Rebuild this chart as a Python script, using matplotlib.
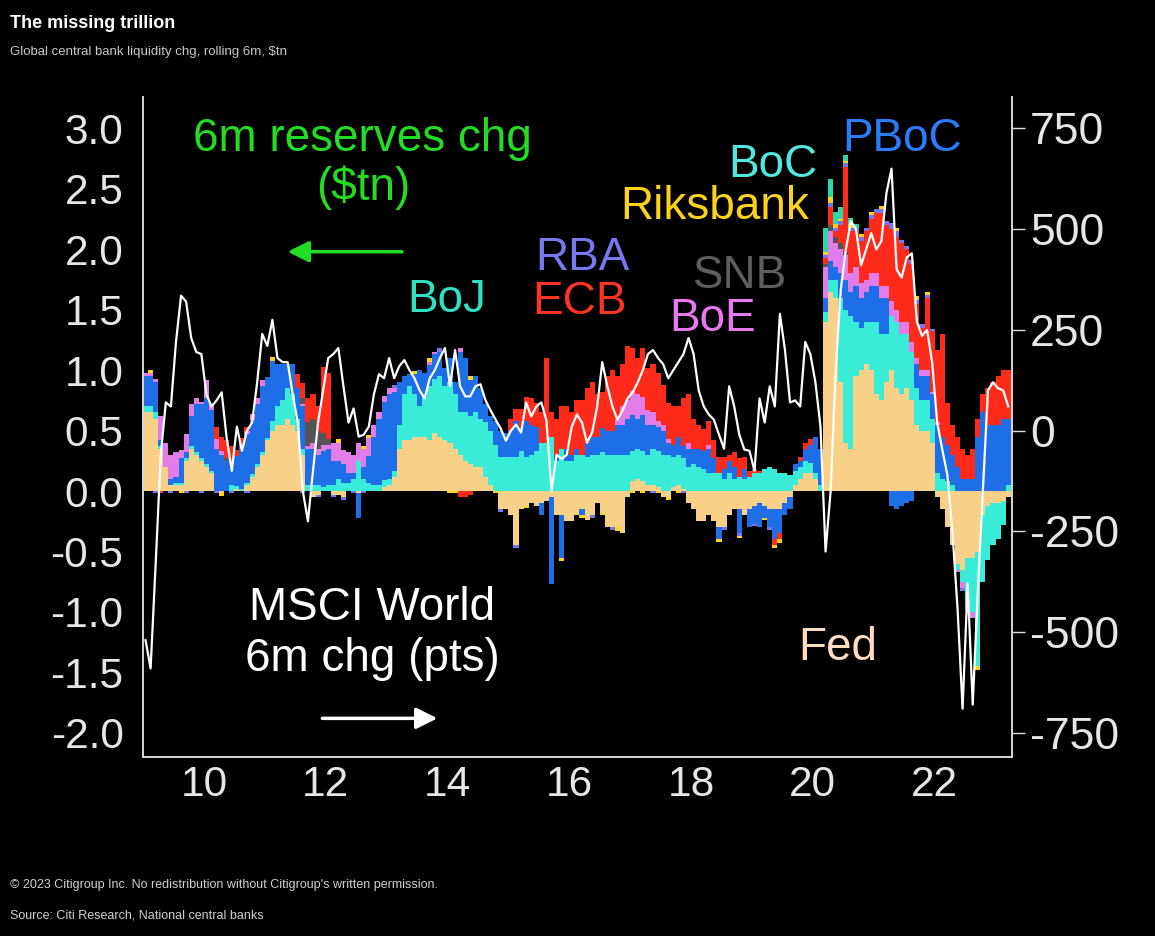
import numpy as np
import matplotlib
matplotlib.use("Agg")
import matplotlib.pyplot as plt

plt.rcParams["font.family"] = ["Liberation Sans", "DejaVu Sans"]
plt.rcParams["axes.unicode_minus"] = False

# monthly 6m change in reserves ($tn), Jan 2009 .. Mar 2023
fed = [
    0.65, 0.65, 0.60, 0.35, 0.20, 0.05, 0.05, 0.05, 0.25, 0.35, 0.30, 0.25,
    0.20, 0.15, 0.00, -0.02, 0.00, 0.00, 0.02, 0.00, 0.05, 0.12, 0.20, 0.30,
    0.42, 0.50, 0.55, 0.55, 0.60, 0.55, 0.50, 0.30, 0.00, -0.05, -0.03, 0.00,
    0.00, -0.03, -0.03, -0.05, 0.00, 0.00, -0.02, 0.00, 0.00, 0.00, 0.00, 0.03,
    0.05, 0.12, 0.35, 0.42, 0.42, 0.45, 0.45, 0.45, 0.42, 0.48, 0.45, 0.42,
    0.40, 0.35, 0.30, 0.25, 0.22, 0.20, 0.20, 0.12, 0.05, 0.00, -0.15, -0.15,
    -0.20, -0.45, -0.15, -0.12, -0.10, -0.12, -0.10, -0.08, -0.05, -0.20, -0.20, -0.25,
    -0.25, -0.20, -0.15, -0.24, -0.20, -0.10, -0.18, -0.30, -0.30, -0.30, -0.35, -0.05,
    0.08, 0.10, 0.08, 0.05, 0.05, 0.03, -0.05, -0.05, 0.03, 0.05, 0.02, -0.10,
    -0.15, -0.25, -0.25, -0.20, -0.25, -0.30, -0.30, -0.20, -0.15, -0.15, -0.20, -0.15,
    -0.12, -0.10, -0.12, -0.15, -0.15, -0.15, -0.10, -0.05, 0.05, 0.10, 0.15, 0.15,
    0.10, 0.00, 1.40, 1.65, 1.60, 0.90, 0.40, 0.35, 0.95, 1.00, 1.05, 1.00,
    0.80, 0.75, 0.90, 1.00, 0.85, 0.80, 0.85, 0.75, 0.55, 0.50, 0.50, 0.40,
    -0.05, -0.15, -0.30, -0.45, -0.60, -0.65, -0.55, -0.55, -0.50, -0.20, -0.12, -0.10,
    -0.10, -0.08, -0.05,
]
boj = [
    0.05, 0.05, 0.05, 0.02, 0.00, 0.00, 0.02, 0.02, 0.02, 0.02, 0.02, 0.02,
    0.02, 0.02, 0.00, 0.00, 0.00, 0.05, 0.02, 0.02, 0.02, 0.02, 0.02, 0.02,
    0.02, 0.08, 0.15, 0.20, 0.25, 0.25, 0.10, 0.05, 0.05, 0.05, 0.05, 0.03,
    0.05, 0.05, 0.10, 0.07, 0.07, 0.10, 0.25, 0.10, 0.07, 0.05, 0.05, 0.06,
    0.05, 0.05, 0.20, 0.38, 0.45, 0.35, 0.25, 0.33, 0.45, 0.45, 0.50, 0.45,
    0.50, 0.45, 0.35, 0.40, 0.40, 0.45, 0.40, 0.45, 0.45, 0.38, 0.28, 0.28,
    0.28, 0.28, 0.33, 0.28, 0.30, 0.33, 0.40, 0.40, 0.45, 0.25, 0.35, 0.25,
    0.25, 0.30, 0.30, 0.28, 0.30, 0.30, 0.32, 0.30, 0.30, 0.30, 0.30, 0.30,
    0.25, 0.25, 0.25, 0.25, 0.30, 0.30, 0.30, 0.30, 0.25, 0.25, 0.25, 0.20,
    0.22, 0.20, 0.18, 0.15, 0.15, 0.15, 0.10, 0.15, 0.10, 0.12, 0.10, 0.12,
    0.15, 0.15, 0.18, 0.20, 0.18, 0.15, 0.15, 0.13, 0.12, 0.10, 0.10, 0.08,
    0.05, 0.05, 0.08, 0.10, 0.15, 0.70, 1.10, 1.10, 0.45, 0.35, 0.35, 0.40,
    0.60, 0.55, 0.40, 0.45, 0.55, 0.50, 0.45, 0.40, 0.30, 0.25, 0.25, 0.20,
    0.15, 0.10, 0.08, 0.05, -0.05, -0.10, -0.35, -0.45, -0.95, -0.55, -0.45, -0.35,
    -0.30, -0.20, 0.05,
]
pboc = [
    0.25, 0.25, 0.25, 0.05, 0.00, 0.05, 0.05, 0.20, 0.05, 0.25, 0.40, 0.45,
    0.55, 0.50, 0.35, 0.30, 0.25, 0.15, 0.25, 0.35, 0.40, 0.45, 0.50, 0.55,
    0.50, 0.50, 0.35, 0.30, 0.20, 0.25, 0.25, 0.35, 0.30, 0.30, 0.25, 0.30,
    0.30, 0.20, 0.15, 0.15, 0.08, 0.05, -0.20, 0.10, 0.22, 0.40, 0.55, 0.65,
    0.70, 0.65, 0.35, 0.15, 0.10, 0.17, 0.30, 0.20, 0.17, 0.20, 0.20, 0.15,
    0.20, 0.10, 0.50, 0.45, 0.30, 0.30, 0.25, 0.15, 0.12, 0.20, 0.22, 0.20,
    0.22, 0.30, 0.20, 0.30, 0.25, 0.20, -0.10, 0.00, -0.72, 0.05, -0.35, 0.10,
    0.05, 0.05, -0.05, 0.12, 0.15, 0.15, 0.20, 0.20, 0.20, 0.25, 0.25, 0.30,
    0.30, 0.25, 0.30, 0.25, 0.20, 0.20, 0.20, 0.10, 0.10, 0.15, 0.10, 0.15,
    0.13, 0.15, 0.15, 0.20, 0.12, -0.10, 0.08, 0.10, 0.10, -0.20, 0.08, -0.15,
    -0.15, -0.20, -0.10, -0.15, -0.25, -0.20, -0.10, -0.10, 0.05, 0.05, 0.10, 0.15,
    0.30, 0.30, 0.12, 0.15, 0.10, 0.20, 0.25, 0.20, 0.30, 0.25, 0.25, 0.30,
    0.30, 0.30, 0.30, -0.12, -0.15, -0.12, -0.10, -0.08, 0.20, 0.20, 0.20, 0.20,
    0.40, 0.35, 0.30, 0.25, 0.20, 0.10, 0.10, 0.10, 0.45, 0.65, 0.55, 0.55,
    0.55, 0.60, 0.55,
]
boe = [
    0.03, 0.03, 0.03, 0.20, 0.20, 0.20, 0.20, 0.07, 0.15, 0.10, 0.05, 0.02,
    0.15, 0.05, 0.08, 0.03, 0.00, 0.00, 0.00, 0.00, 0.03, 0.05, 0.05, 0.05,
    0.00, 0.00, 0.00, 0.00, 0.00, 0.00, 0.00, 0.02, 0.02, 0.05, 0.05, 0.05,
    0.03, 0.15, 0.15, 0.12, 0.17, 0.15, 0.15, 0.15, 0.15, 0.10, 0.05, 0.05,
    0.05, 0.03, 0.00, 0.00, 0.00, 0.00, 0.00, 0.00, 0.03, 0.02, 0.00, 0.00,
    0.00, 0.00, 0.03, 0.00, 0.00, 0.00, 0.00, 0.00, 0.00, 0.00, 0.00, 0.00,
    0.00, 0.00, 0.00, 0.00, 0.00, 0.00, 0.00, 0.00, 0.00, 0.00, 0.00, 0.00,
    0.00, 0.00, 0.00, 0.00, 0.00, 0.00, 0.00, 0.00, 0.00, 0.05, 0.15, 0.15,
    0.20, 0.20, 0.15, 0.12, 0.10, 0.05, 0.05, 0.03, 0.00, 0.00, 0.00, 0.05,
    0.00, 0.00, 0.00, 0.03, 0.00, 0.00, 0.00, 0.00, 0.00, 0.00, 0.00, 0.00,
    0.00, 0.00, 0.00, 0.00, 0.00, 0.00, 0.00, 0.00, 0.00, 0.00, 0.00, 0.00,
    0.00, 0.00, 0.25, 0.25, 0.20, 0.20, 0.20, 0.15, 0.15, 0.12, 0.10, 0.10,
    0.10, 0.10, 0.10, 0.12, 0.10, 0.10, 0.10, 0.08, 0.05, 0.05, 0.05, 0.02,
    0.02, 0.00, 0.00, 0.00, -0.02, -0.05, -0.05, -0.05, 0.00, 0.00, 0.00, 0.00,
    0.00, 0.00, 0.00,
]
snb = [
    0.00, 0.00, 0.00, 0.00, 0.00, 0.00, 0.00, 0.00, 0.00, 0.00, 0.00, 0.00,
    0.00, 0.00, 0.00, 0.00, 0.02, 0.02, 0.00, 0.00, 0.00, 0.00, 0.00, 0.00,
    0.00, 0.00, 0.00, 0.00, 0.00, 0.00, 0.00, 0.05, 0.20, 0.20, 0.15, 0.10,
    0.05, 0.00, 0.00, 0.00, 0.00, 0.00, 0.00, 0.00, 0.00, 0.00, 0.00, 0.00,
    0.00, 0.00, 0.00, 0.00, 0.00, 0.00, 0.00, 0.00, 0.00, 0.00, 0.00, 0.00,
    0.00, 0.00, 0.00, 0.00, 0.00, 0.00, 0.00, 0.00, 0.00, 0.00, 0.00, 0.00,
    0.00, 0.00, 0.00, 0.00, 0.00, 0.00, 0.00, 0.00, 0.00, 0.00, 0.00, 0.00,
    0.00, 0.00, 0.00, 0.00, 0.00, 0.00, 0.00, 0.00, 0.00, 0.00, 0.00, 0.00,
    0.00, 0.00, 0.00, 0.00, 0.00, 0.00, 0.00, 0.00, 0.00, 0.00, 0.00, 0.00,
    0.00, 0.00, 0.00, 0.00, 0.00, 0.00, 0.00, 0.00, 0.00, 0.00, 0.00, 0.00,
    0.00, 0.00, 0.00, 0.00, 0.00, 0.00, 0.00, 0.00, 0.00, 0.00, 0.00, 0.00,
    0.00, 0.00, 0.03, 0.05, 0.05, 0.05, 0.03, 0.00, 0.00, 0.00, 0.00, 0.00,
    0.00, 0.00, 0.00, 0.00, 0.00, 0.00, 0.00, 0.00, 0.00, 0.00, 0.00, 0.00,
    0.00, 0.00, 0.00, 0.00, 0.00, 0.00, 0.00, 0.00, 0.00, 0.00, 0.00, 0.00,
    0.00, 0.00, 0.00,
]
ecb = [
    0.00, 0.00, 0.00, -0.02, 0.00, 0.00, 0.00, 0.00, 0.00, 0.00, 0.00, 0.00,
    0.00, 0.00, 0.10, 0.12, 0.15, 0.15, 0.05, 0.07, 0.03, 0.00, 0.00, 0.00,
    0.00, 0.00, 0.00, 0.00, 0.00, 0.00, 0.12, 0.12, 0.20, 0.20, 0.20, 0.55,
    0.55, 0.00, 0.00, 0.00, 0.00, 0.00, 0.00, 0.00, 0.00, 0.00, 0.00, 0.00,
    0.00, 0.00, 0.00, 0.00, 0.00, 0.00, 0.00, 0.00, 0.00, 0.00, 0.00, 0.00,
    0.00, 0.00, -0.05, -0.05, -0.03, 0.00, 0.00, 0.00, 0.00, 0.00, 0.00, 0.00,
    0.10, 0.10, 0.15, 0.20, 0.22, 0.20, 0.25, 0.70, 0.20, 0.30, 0.35, 0.35,
    0.35, 0.40, 0.45, 0.45, 0.45, 0.35, 0.30, 0.45, 0.50, 0.35, 0.35, 0.45,
    0.35, 0.30, 0.40, 0.35, 0.40, 0.40, 0.33, 0.30, 0.32, 0.25, 0.40, 0.40,
    0.25, 0.20, 0.18, 0.20, 0.15, 0.13, 0.10, 0.05, 0.12, 0.15, 0.10, 0.05,
    0.03, 0.02, 0.00, 0.00, -0.05, -0.05, 0.00, 0.00, 0.00, 0.03, 0.05, 0.05,
    0.00, 0.00, 0.05, 0.15, 0.05, 0.15, 0.70, 0.35, 0.30, 0.35, 0.40, 0.45,
    0.50, 0.60, 0.50, 0.60, 0.60, 0.65, 0.60, 0.65, 0.45, 0.35, 0.60, 0.50,
    0.60, 0.85, 0.35, 0.25, 0.25, 0.25, 0.20, 0.25, 0.15, 0.15, 0.30, 0.35,
    0.40, 0.40, 0.40,
]
rba = [
    0.00, 0.00, -0.02, 0.00, 0.00, -0.02, 0.00, 0.00, -0.02, 0.00, 0.00, -0.02,
    0.00, 0.00, -0.02, 0.00, 0.00, -0.02, 0.00, 0.00, -0.02, 0.00, 0.00, 0.00,
    0.00, 0.00, 0.00, 0.00, 0.00, 0.00, 0.00, -0.02, 0.00, 0.00, -0.02, 0.00,
    0.00, -0.02, 0.00, -0.02, 0.00, -0.02, 0.00, -0.02, 0.00, 0.00, 0.00, 0.00,
    0.00, 0.03, 0.00, 0.00, 0.00, 0.00, 0.00, 0.00, 0.00, 0.00, 0.03, 0.00,
    0.00, 0.00, 0.00, 0.00, 0.00, 0.00, 0.00, 0.00, 0.00, 0.00, -0.02, 0.00,
    0.00, -0.02, 0.00, 0.00, 0.00, 0.00, 0.00, 0.00, 0.00, 0.00, 0.00, 0.00,
    0.00, 0.00, 0.00, 0.00, -0.02, 0.00, 0.00, 0.00, -0.02, 0.00, 0.00, 0.00,
    0.00, 0.00, 0.00, 0.00, -0.02, 0.00, 0.00, 0.00, 0.00, 0.00, -0.02, 0.00,
    0.00, 0.00, 0.00, 0.00, 0.00, 0.00, -0.02, 0.00, 0.00, -0.02, 0.00, 0.00,
    -0.02, 0.00, 0.00, -0.02, 0.00, 0.00, 0.00, 0.00, 0.00, 0.00, 0.00, 0.00,
    0.00, 0.00, 0.02, 0.03, 0.03, 0.03, 0.03, 0.03, 0.03, 0.03, 0.03, 0.03,
    0.03, 0.03, 0.03, 0.05, 0.05, 0.03, 0.03, 0.03, 0.03, 0.03, 0.02, 0.02,
    0.00, 0.00, 0.00, 0.00, 0.00, -0.03, -0.03, 0.00, 0.00, 0.00, 0.00, 0.00,
    0.00, 0.00, 0.00,
]
riksbank = [
    0.00, 0.02, 0.00, 0.00, 0.00, 0.00, 0.00, -0.02, 0.00, 0.00, 0.00, 0.00,
    0.00, 0.00, 0.00, -0.02, 0.00, 0.00, 0.00, 0.00, 0.00, 0.00, 0.00, 0.00,
    0.00, 0.03, 0.00, 0.00, 0.00, 0.00, 0.00, 0.00, 0.00, 0.00, 0.00, 0.00,
    0.00, 0.00, 0.03, 0.00, 0.00, 0.00, 0.00, 0.02, 0.02, 0.00, 0.00, 0.00,
    0.00, 0.00, 0.00, 0.00, 0.00, 0.02, 0.00, 0.00, 0.03, 0.00, 0.00, 0.00,
    -0.02, -0.02, 0.00, 0.00, 0.03, 0.00, 0.00, 0.00, 0.00, -0.02, 0.00, 0.00,
    0.00, 0.00, 0.00, -0.02, 0.00, 0.00, 0.00, 0.00, 0.00, 0.00, -0.03, 0.00,
    0.00, 0.00, -0.02, 0.00, 0.00, 0.00, -0.02, 0.00, 0.00, -0.03, 0.00, 0.00,
    -0.02, 0.00, -0.02, 0.00, 0.00, -0.02, 0.00, -0.02, 0.00, -0.02, 0.00, 0.00,
    0.00, 0.00, 0.00, 0.00, 0.00, -0.02, 0.00, 0.00, 0.00, -0.02, 0.00, 0.00,
    0.00, 0.00, -0.02, 0.00, -0.02, -0.03, 0.00, 0.00, 0.00, 0.00, 0.00, 0.00,
    0.00, 0.00, 0.03, 0.05, 0.03, 0.02, 0.02, 0.03, 0.00, 0.03, 0.00, 0.03,
    0.00, 0.03, 0.00, 0.00, 0.03, 0.00, 0.00, 0.00, 0.03, 0.00, 0.03, 0.00,
    0.00, 0.00, 0.00, 0.00, 0.00, 0.00, 0.00, 0.00, -0.03, 0.00, 0.00, 0.00,
    0.00, 0.00, 0.00,
]
boc = [
    0.00, 0.00, 0.00, 0.00, 0.00, 0.00, 0.00, 0.00, 0.00, 0.00, 0.00, 0.00,
    0.00, 0.00, 0.00, 0.00, 0.00, 0.00, 0.00, 0.00, 0.00, 0.00, 0.00, 0.00,
    0.00, 0.00, 0.00, 0.00, 0.00, 0.00, 0.00, 0.00, 0.00, 0.00, 0.00, 0.00,
    0.00, 0.00, 0.00, 0.00, 0.00, 0.00, 0.00, 0.00, 0.00, 0.00, 0.00, 0.00,
    0.00, 0.00, 0.00, 0.00, 0.00, 0.00, 0.00, 0.00, 0.00, 0.00, 0.00, 0.00,
    0.00, 0.00, 0.00, 0.00, 0.00, 0.00, 0.00, 0.00, 0.00, 0.00, 0.00, 0.00,
    0.00, 0.00, 0.00, 0.00, 0.00, 0.00, 0.00, 0.00, 0.00, 0.00, 0.00, 0.00,
    0.00, 0.00, 0.00, 0.00, 0.00, 0.00, 0.00, 0.00, 0.00, 0.00, 0.00, 0.00,
    0.00, 0.00, 0.00, 0.00, 0.00, 0.00, 0.00, 0.00, 0.00, 0.00, 0.00, 0.00,
    0.00, 0.00, 0.00, 0.00, 0.00, 0.00, 0.00, 0.00, 0.00, 0.00, 0.00, 0.00,
    0.00, 0.00, 0.00, 0.00, 0.00, 0.00, 0.00, 0.00, 0.00, 0.00, 0.00, 0.00,
    0.00, 0.00, 0.20, 0.15, 0.10, 0.10, 0.05, 0.05, 0.03, 0.00, 0.00, 0.00,
    0.00, 0.00, 0.00, 0.00, 0.00, 0.00, 0.00, 0.00, 0.00, 0.00, 0.00, 0.00,
    0.00, 0.00, 0.00, 0.00, 0.00, 0.00, 0.00, 0.00, 0.00, 0.00, 0.00, 0.00,
    0.00, 0.00, 0.00,
]

# MSCI World 6m change (pts), right axis
msci = [
    -520, -590, -330, -60, 70, 60, 220, 335, 320, 230, 195, 190,
    90, 60, 75, 95, -20, -100, 10, -50, 0, 20, 120, 240,
    210, 275, 180, 170, 170, 90, 20, -150, -225, -100, 20, 100,
    180, 190, 205, 110, 20, 55, -15, -10, 10, 90, 140, 130,
    180, 130, 160, 175, 150, 130, 100, 80, 130, 150, 180, 205,
    110, 200, 110, 85, 85, 110, 115, 75, 50, 27, 5, -25,
    0, 15, -5, 70, 35, 60, 70, 25, -150, -60, -70, -60,
    10, 40, 20, -30, -5, 60, 170, 110, 60, 27, 50, 80,
    95, 120, 150, 190, 200, 180, 165, 130, 150, 170, 190, 230,
    190, 100, 60, 40, 27, -10, -45, 110, 60, -10, -47, -50,
    -100, 80, 20, 110, 60, 290, 200, 70, 75, 60, 220, 190,
    120, 10, -300, -150, 150, 350, 450, 520, 500, 410, 450, 490,
    450, 470, 590, 650, 400, 380, 430, 440, 270, 235, 250, 170,
    20, -47, -110, -250, -440, -690, -380, -680, -400, -150, 100, 120,
    105, 100, 60,
]

banks = ["Fed", "BoJ", "PBoC", "BoE", "SNB", "ECB", "RBA", "Riksbank", "BoC"]
bank_values = [fed, boj, pboc, boe, snb, ecb, rba, riksbank, boc]
bar_colors = ["#f8d088", "#38ecd8", "#1e6ee8", "#e27ce8", "#555555",
              "#ff2a1a", "#7676f0", "#ffd21a", "#2fd6a8"]

n = len(fed)
x_left = 9.0 + np.arange(n) / 12.0
x_mid = x_left + 1 / 24.0

fig = plt.figure(figsize=(11.55, 9.36), dpi=100, facecolor="black")
ax = fig.add_axes([0.1238, 0.1912, 0.7524, 0.7052])
ax.set_facecolor("black")

pos_base = np.zeros(n)
neg_base = np.zeros(n)
for vals, col in zip(bank_values, bar_colors):
    v = np.array(vals, dtype=float)
    pos = np.where(v > 0, v, 0)
    neg = np.where(v < 0, v, 0)
    ax.bar(x_left, pos, width=1 / 12, bottom=pos_base, align="edge",
           color=col, linewidth=0)
    ax.bar(x_left, neg, width=1 / 12, bottom=neg_base, align="edge",
           color=col, linewidth=0)
    pos_base += pos
    neg_base += neg

ylo, yhi = -2.2, 3.26
ax.set_xlim(9.0, 23.27)
ax.set_ylim(ylo, yhi)

ax2 = ax.twinx()
ax2.plot(x_mid, msci, color="white", lw=1.6)
ax2.set_ylim((ylo - 0.5) * 300, (yhi - 0.5) * 300)

tick_col = "#e6e6e6"
ax.set_yticks(np.arange(-2.0, 3.01, 0.5))
ax.set_yticklabels([f"{t:.1f}" for t in np.arange(-2.0, 3.01, 0.5)])
ax.set_xticks([10, 12, 14, 16, 18, 20, 22])
ax.set_xticklabels(["10", "12", "14", "16", "18", "20", "22"])
ax.tick_params(axis="y", length=0, pad=14, labelsize=30.5, labelcolor=tick_col)
ax.tick_params(axis="x", length=0, pad=6, labelsize=30.5, labelcolor=tick_col)
ax2.set_yticks([-750, -500, -250, 0, 250, 500, 750])
ax2.tick_params(axis="y", length=9, width=1, color="#dddddd", pad=4,
                labelsize=32, labelcolor=tick_col)

for a in (ax, ax2):
    a.spines["top"].set_visible(False)
    for s in ("left", "right", "bottom"):
        a.spines[s].set_color("#d8d8d8")
        a.spines[s].set_linewidth(1.2)

# annotations
lab = dict(fontsize=33, ha="center", va="center")
ax.text(12.61, 2.71, "6m reserves chg\n($tn)", color="#22dd22",
        linespacing=1.15, **lab)
ax.annotate("", xy=(11.33, 1.98), xytext=(13.30, 1.98),
            arrowprops=dict(arrowstyle="-|>", color="#22dd22", lw=2.5,
                            mutation_scale=32))
ax.text(12.76, -1.18, "MSCI World\n6m chg (pts)", color="white",
        linespacing=1.2, **lab)
ax.annotate("", xy=(13.88, -1.88), xytext=(11.90, -1.88),
            arrowprops=dict(arrowstyle="-|>", color="white", lw=2.5,
                            mutation_scale=32))

ax.text(13.99, 1.58, "BoJ", color="#2fe0c4", **lab)
ax.text(16.21, 1.93, "RBA", color="#7878f0", **lab)
ax.text(16.17, 1.56, "ECB", color="#ff3322", **lab)
ax.text(18.80, 1.78, "SNB", color="#5e5e5e", **lab)
ax.text(18.36, 1.42, "BoE", color="#e878f0", **lab)
ax.text(18.39, 2.35, "Riksbank", color="#ffd21a", **lab)
ax.text(19.34, 2.70, "BoC", color="#50e8e0", **lab)
ax.text(21.46, 2.91, "PBoC", color="#2a7cff", **lab)
ax.text(20.41, -1.30, "Fed", color="#ffdcc0", **lab)

fig.text(0.009, 0.975, "The missing trillion", color="white", fontsize=13,
         fontweight="bold", va="center", ha="left")
fig.text(0.009, 0.944, "Global central bank liquidity chg, rolling 6m, $tn",
         color="#c8c8c8", fontsize=9.5, va="center", ha="left")
fig.text(0.009, 0.054,
         "\u00a9 2023 Citigroup Inc. No redistribution without Citigroup's written permission.",
         color="#d0d0d0", fontsize=9, va="center", ha="left")
fig.text(0.009, 0.022, "Source: Citi Research, National central banks",
         color="#d0d0d0", fontsize=9, va="center", ha="left")

fig.savefig("out.png", dpi=100, facecolor="black")
